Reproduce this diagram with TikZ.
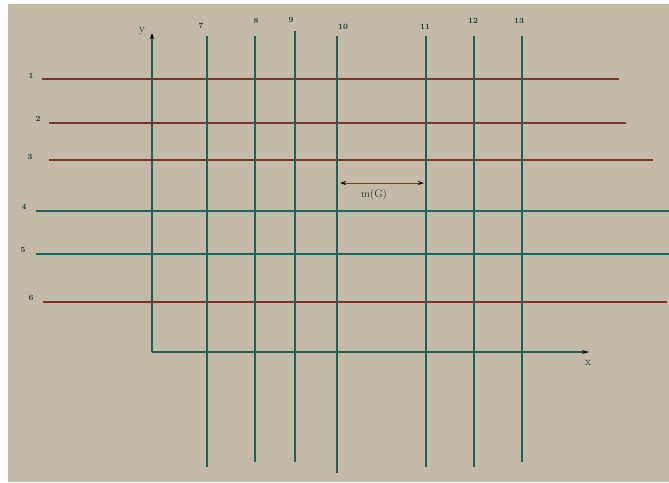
\documentclass[tikz,border=0pt]{standalone}
\usepackage{tikz}
\usetikzlibrary{calc,arrows.meta}
\definecolor{paper}{RGB}{195,187,168}
\definecolor{rowred}{RGB}{125,50,40}
\definecolor{rowteal}{RGB}{25,100,94}
\definecolor{colteal}{RGB}{32,96,86}
\definecolor{labink}{RGB}{30,60,52}

\begin{document}
\begin{tikzpicture}[x=1pt,y=-1pt,
  gridline/.style={line width=1.05pt},
  numlab/.style={font=\fontsize{8}{9}\selectfont\bfseries, text=labink, inner sep=1pt},
  axislab/.style={font=\fontsize{12}{13}\selectfont, text=labink, inner sep=1pt}]

\useasboundingbox (0,0) rectangle (669,482);
\fill[white] (0,0) rectangle (669,482);
\fill[paper] (8,4) rectangle (669,482);

%---------------- axes -----------------
\coordinate (O) at (152,352);
\coordinate (ytip) at (152,33);
\coordinate (xtip) at (589,352);
\draw[gridline, colteal, -{Stealth[length=6pt,width=4pt,black]}] (O) -- (ytip);
\draw[gridline, colteal, -{Stealth[length=7pt,width=4pt,black]}] (O) -- (xtip);
\node[axislab] (ylab) at (142,31) {y};
\node[axislab] (xlab) at (588,363) {x};

%---------------- horizontal lines 1--6 -----------------
\coordinate (r1a) at (42,79);  \coordinate (r1b) at (619,79);
\coordinate (r2a) at (49,123); \coordinate (r2b) at (626,123);
\coordinate (r3a) at (49,160); \coordinate (r3b) at (653,160);
\coordinate (r4a) at (36,211); \coordinate (r4b) at (669,211);
\coordinate (r5a) at (36,254); \coordinate (r5b) at (669,254);
\coordinate (r6a) at (43,302); \coordinate (r6b) at (667,302);
\draw[gridline, rowred] (r1a) -- (r1b);
\draw[gridline, rowred] (r2a) -- (r2b);
\draw[gridline, rowred] (r3a) -- (r3b);
\draw[gridline, rowteal] (r4a) -- (r4b);
\draw[gridline, rowteal] (r5a) -- (r5b);
\draw[gridline, rowred] (r6a) -- (r6b);
\node[numlab] (n1) at (31,76) {1};
\node[numlab] (n2) at (38,119) {2};
\node[numlab] (n3) at (30,157) {3};
\node[numlab] (n4) at (24,207) {4};
\node[numlab] (n5) at (23,250) {5};
\node[numlab] (n6) at (31,298) {6};

%---------------- vertical lines 7--13 -----------------
\coordinate (c7a) at (207,36);  \coordinate (c7b) at (207,467);
\coordinate (c8a) at (255,36);  \coordinate (c8b) at (255,462);
\coordinate (c9a) at (295,31);  \coordinate (c9b) at (295,462);
\coordinate (c10a) at (337,36); \coordinate (c10b) at (337,473);
\coordinate (c11a) at (426,36); \coordinate (c11b) at (426,467);
\coordinate (c12a) at (474,36); \coordinate (c12b) at (474,467);
\coordinate (c13a) at (522,36); \coordinate (c13b) at (522,462);
\draw[gridline, colteal] (c7a) -- (c7b);
\draw[gridline, colteal] (c8a) -- (c8b);
\draw[gridline, colteal] (c9a) -- (c9b);
\draw[gridline, colteal] (c10a) -- (c10b);
\draw[gridline, colteal] (c11a) -- (c11b);
\draw[gridline, colteal] (c12a) -- (c12b);
\draw[gridline, colteal] (c13a) -- (c13b);
\node[numlab] (n7) at (201,26) {7};
\node[numlab] (n8) at (256,21) {8};
\node[numlab] (n9) at (291,20) {9};
\node[numlab] (n10) at (343,27) {10};
\node[numlab] (n11) at (425,27) {11};
\node[numlab] (n12) at (473,21) {12};
\node[numlab] (n13) at (519,21) {13};

%---------------- width m(G) -----------------
\coordinate (ma) at (340,183);
\coordinate (mb) at (424,183);
\draw[line width=0.9pt, rowred, {Stealth[length=6pt,width=4pt,black]}-{Stealth[length=6pt,width=4pt,black]}] (ma) -- (mb);
\node[font=\fontsize{11}{12}\selectfont, text=labink, inner sep=1pt] (mG) at (374,195) {m(G)};

\end{tikzpicture}
\end{document}
